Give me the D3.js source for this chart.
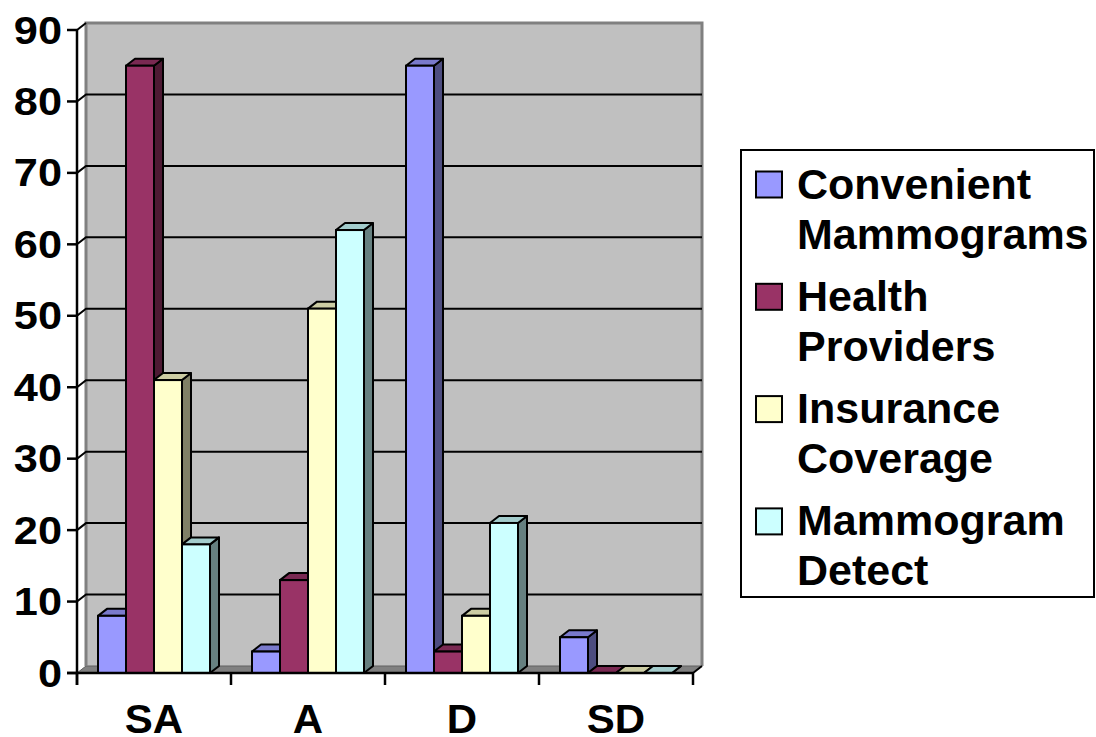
<!DOCTYPE html>
<html>
<head>
<meta charset="utf-8">
<script src="https://cdn.jsdelivr.net/npm/d3@7"></script>
<style>
  html, body { margin: 0; padding: 0; background: #fff; }
  svg { display: block; }
  text { font-family: "Liberation Sans", Arial, sans-serif; font-weight: bold; fill: #000; }
</style>
</head>
<body>
<svg id="chart" width="1096" height="737"></svg>
<script>
// ---- data ----
const categories = ["SA", "A", "D", "SD"];
const seriesNames = [
  ["Convenient", "Mammograms"],
  ["Health", "Providers"],
  ["Insurance", "Coverage"],
  ["Mammogram", "Detect"]
];
const convenientMammograms = [8, 3, 85, 5];
const healthProviders = [85, 13, 3, 0];
const insuranceCoverage = [41, 51, 8, 0];
const mammogramDetect = [18, 62, 21, 0];
const yTicks = [0, 10, 20, 30, 40, 50, 60, 70, 80, 90];

const seriesValues = [convenientMammograms, healthProviders, insuranceCoverage, mammogramDetect];
const frontColors = ["#9999FF", "#993366", "#FFFFCC", "#CCFFFF"];
const topColors   = ["#7A7ACC", "#7A2952", "#CCCCA3", "#A3CCCC"];
const sideColors  = ["#4D4D80", "#4D1A33", "#808066", "#668080"];

// ---- layout ----
const svg = d3.select("#chart");
const plotLeft = 77, plotRight = 693, plotBottom = 673, plotTop = 30;
const dx = 9, dy = 7;

const y = d3.scaleLinear().domain([0, 90]).range([plotBottom, plotTop]);
const x0 = d3.scaleBand().domain(categories).range([plotLeft, plotRight]).paddingInner(0).paddingOuter(0);
const x1 = d3.scaleBand().domain(d3.range(seriesValues.length)).range([0, x0.bandwidth()]).paddingInner(0).paddingOuter(0.75);

// back wall
svg.append("rect")
  .attr("x", plotLeft + dx).attr("y", y(90) - dy)
  .attr("width", plotRight - plotLeft).attr("height", plotBottom - plotTop)
  .attr("fill", "#C0C0C0");

// floor
svg.append("polygon")
  .attr("points", [[plotLeft, plotBottom], [plotRight, plotBottom], [plotRight + dx, plotBottom - dy], [plotLeft + dx, plotBottom - dy]].map(p => p.join(",")).join(" "))
  .attr("fill", "#808080").attr("stroke", "#606060").attr("stroke-width", 1);

// wall borders
svg.append("path")
  .attr("d", `M${plotLeft + dx},${plotBottom - dy} V${y(90) - dy} H${plotRight + dx} V${plotBottom - dy}`)
  .attr("fill", "none").attr("stroke", "#808080").attr("stroke-width", 3);

// gridlines (side diagonal + back wall)
const grid = svg.append("g");
yTicks.filter(t => t > 0).forEach(t => {
  const yy = y(t);
  const d = t < 90
    ? `M${plotLeft},${yy} L${plotLeft + dx},${yy - dy} H${plotRight + dx}`
    : `M${plotLeft},${yy} L${plotLeft + dx},${yy - dy}`;
  grid.append("path").attr("d", d)
    .attr("fill", "none").attr("stroke", "#000").attr("stroke-width", 2);
});
svg.append("path")
  .attr("d", `M${plotRight},${plotBottom} L${plotRight + dx},${plotBottom - dy}`)
  .attr("stroke", "#000").attr("stroke-width", 2);

// bars
const barsG = svg.append("g");
categories.forEach((c, ci) => {
  seriesValues.forEach((vals, si) => {
    const v = vals[ci];
    const bx = x0(c) + x1(si);
    const w = x1.bandwidth();
    const by = y(v);
    const g = barsG.append("g");
    g.append("polygon")
      .attr("points", [[bx + w, by], [bx + w + dx, by - dy], [bx + w + dx, plotBottom - dy], [bx + w, plotBottom]].map(p => p.join(",")).join(" "))
      .attr("fill", sideColors[si]).attr("stroke", "#000").attr("stroke-width", 2).attr("stroke-linejoin", "round");
    g.append("polygon")
      .attr("points", [[bx, by], [bx + w, by], [bx + w + dx, by - dy], [bx + dx, by - dy]].map(p => p.join(",")).join(" "))
      .attr("fill", topColors[si]).attr("stroke", "#000").attr("stroke-width", 2).attr("stroke-linejoin", "round");
    if (v > 0) {
      g.append("rect")
        .attr("x", bx).attr("y", by).attr("width", w).attr("height", plotBottom - by)
        .attr("fill", frontColors[si]).attr("stroke", "#000").attr("stroke-width", 2);
    }
  });
});

// y axis
const yAxis = svg.append("g");
yAxis.append("line").attr("x1", plotLeft).attr("x2", plotLeft).attr("y1", y(90)).attr("y2", plotBottom + 12)
  .attr("stroke", "#000").attr("stroke-width", 2.5);
yTicks.forEach(t => {
  yAxis.append("line").attr("x1", plotLeft - 10).attr("x2", plotLeft).attr("y1", y(t)).attr("y2", y(t))
    .attr("stroke", "#000").attr("stroke-width", 2.5);
  yAxis.append("text")
    .attr("transform", `translate(62,${y(t) + 13.5}) scale(1.14,1)`)
    .attr("text-anchor", "end").attr("font-size", 38).text(t);
});

// x axis
const xAxis = svg.append("g");
xAxis.append("line").attr("x1", plotLeft - 10).attr("x2", plotRight).attr("y1", plotBottom).attr("y2", plotBottom)
  .attr("stroke", "#000").attr("stroke-width", 2.5);
categories.concat(["__end"]).forEach((c, i) => {
  const xx = i < categories.length ? x0(c) : plotRight;
  xAxis.append("line").attr("x1", xx).attr("x2", xx).attr("y1", plotBottom).attr("y2", plotBottom + 12)
    .attr("stroke", "#000").attr("stroke-width", 2.5);
});
categories.forEach(c => {
  xAxis.append("text")
    .attr("transform", `translate(${x0(c) + x0.bandwidth() / 2},733) scale(1.05,1)`)
    .attr("text-anchor", "middle").attr("font-size", 40).text(c);
});

// legend
const lg = svg.append("g");
lg.append("rect").attr("x", 741).attr("y", 150).attr("width", 353).attr("height", 447)
  .attr("fill", "#fff").attr("stroke", "#000").attr("stroke-width", 2);
seriesNames.forEach((lines, i) => {
  const base = 198.5 + i * 112.3;
  lg.append("rect").attr("x", 756).attr("y", base - 27).attr("width", 26).attr("height", 26)
    .attr("fill", frontColors[i]).attr("stroke", "#000").attr("stroke-width", 2);
  lines.forEach((ln, j) => {
    lg.append("text").attr("x", 797).attr("y", base + j * 50)
      .attr("font-size", 43).text(ln);
  });
});
</script>
</body>
</html>
